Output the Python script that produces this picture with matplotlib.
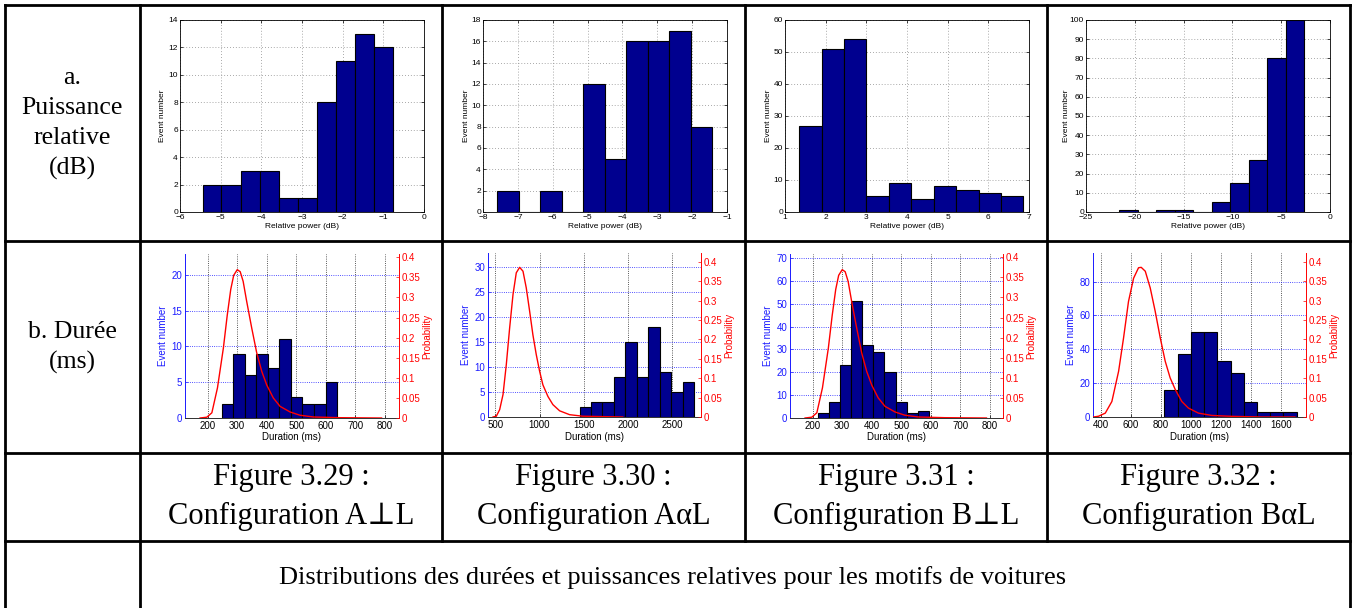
import matplotlib
matplotlib.use('Agg')
import matplotlib.pyplot as plt
from matplotlib.lines import Line2D
from matplotlib.ticker import FuncFormatter
import numpy as np

# ---------------- data ----------------
# Row a: relative power histograms (bin edges, counts)
power_edges_AperpL = [-5.44, -4.98, -4.51, -4.04, -3.57, -3.11, -2.64, -2.17, -1.70, -1.24, -0.77]
power_counts_AperpL = [2, 2, 3, 3, 1, 1, 8, 11, 13, 12]
power_edges_AalphaL = [-7.60, -6.98, -6.36, -5.74, -5.13, -4.51, -3.89, -3.27, -2.66, -2.04, -1.42]
power_counts_AalphaL = [2, 0, 2, 0, 12, 5, 16, 16, 17, 8]
power_edges_BperpL = [1.35, 1.90, 2.45, 3.00, 3.56, 4.11, 4.66, 5.21, 5.76, 6.31, 6.86]
power_counts_BperpL = [27, 51, 54, 5, 9, 4, 8, 7, 6, 5]
power_edges_BalphaL = [-21.60, -19.70, -17.81, -15.91, -14.01, -12.12, -10.22, -8.32, -6.42, -4.53, -2.63]
power_counts_BalphaL = [1, 0, 1, 1, 0, 5, 15, 27, 80, 100]

# Row b: duration histograms (bin edges, counts) and probability curves
dur_edges_AperpL = [247, 287, 326, 365, 404, 443, 482, 521, 560, 600, 639]
dur_counts_AperpL = [2, 9, 6, 9, 7, 11, 3, 2, 2, 5]
dur_edges_AalphaL = [1453, 1583, 1712, 1842, 1972, 2102, 2232, 2362, 2492, 2622, 2752]
dur_counts_AalphaL = [2, 3, 3, 8, 15, 8, 18, 9, 5, 7]
dur_edges_BperpL = [217, 255, 292, 330, 368, 405, 443, 481, 518, 556, 594]
dur_counts_BperpL = [2, 7, 23, 51, 32, 29, 20, 7, 2, 3]
dur_edges_BalphaL = [824, 913, 1001, 1089, 1177, 1266, 1354, 1442, 1530, 1618, 1707]
dur_counts_BalphaL = [16, 37, 50, 50, 33, 26, 9, 3, 3, 3]

prob_x_AperpL = [174, 197, 214, 233, 253, 266, 278, 288, 300, 310, 320, 332, 349, 366, 383, 400, 422, 445, 479, 512, 558, 648, 789]
prob_y_AperpL = [0, 0.002, 0.013, 0.075, 0.174, 0.255, 0.320, 0.355, 0.369, 0.364, 0.340, 0.290, 0.224, 0.162, 0.116, 0.082, 0.050, 0.029, 0.015, 0.007, 0.0025, 0.0008, 0]
prob_x_AalphaL = [474, 511, 549, 587, 624, 662, 700, 737, 775, 813, 850, 888, 925, 963, 1001, 1038, 1095, 1151, 1227, 1340, 1490, 1942]
prob_y_AalphaL = [0, 0.002, 0.019, 0.058, 0.135, 0.230, 0.316, 0.372, 0.386, 0.376, 0.333, 0.273, 0.212, 0.161, 0.118, 0.083, 0.053, 0.032, 0.016, 0.006, 0.002, 0]
prob_x_BperpL = [174, 197, 214, 233, 253, 266, 278, 288, 300, 310, 320, 332, 349, 366, 383, 400, 422, 445, 479, 512, 558, 648, 789]
prob_y_BperpL = [0, 0.002, 0.013, 0.075, 0.174, 0.255, 0.320, 0.355, 0.369, 0.364, 0.340, 0.290, 0.224, 0.162, 0.116, 0.082, 0.050, 0.029, 0.015, 0.007, 0.0025, 0.0008, 0]
prob_x_BalphaL = [351, 384, 429, 473, 518, 551, 584, 618, 651, 669, 696, 729, 762, 796, 829, 862, 896, 940, 984, 1051, 1140, 1273, 1473, 1695]
prob_y_BalphaL = [0, 0.002, 0.010, 0.040, 0.118, 0.204, 0.298, 0.358, 0.385, 0.386, 0.376, 0.333, 0.273, 0.204, 0.144, 0.101, 0.071, 0.040, 0.023, 0.010, 0.004, 0.0017, 0, 0]

row_labels = [["a.", "Puissance", "relative", "(dB)"], ["b. Durée", "(ms)"]]
captions = [("Figure 3.29 :", "Configuration A⊥L"), ("Figure 3.30 :", "Configuration AαL"),
            ("Figure 3.31 :", "Configuration B⊥L"), ("Figure 3.32 :", "Configuration BαL")]
table_title = "Distributions des durées et puissances relatives pour les motifs de voitures"

# ---------------- layout ----------------
W, H = 1357, 608
fig = plt.figure(figsize=(W / 100, H / 100), dpi=100)
fig.patch.set_facecolor('white')

SANS = ['Liberation Sans', 'DejaVu Sans']
SERIF = ['Liberation Serif', 'DejaVu Serif']
NAVY = '#00008F'
BLUE = '#1a1aff'
RED = '#ff0000'


def rect(x0, y0, x1, y1):
    return [x0 / W, 1 - y1 / H, (x1 - x0) / W, (y1 - y0) / H]


def ftext(x, y, s, **kw):
    fig.text(x / W, 1 - y / H, s, ha='center', va='center', **kw)


def hline(y, x0, x1):
    fig.add_artist(Line2D([x0 / W, x1 / W], [1 - y / H, 1 - y / H], transform=fig.transFigure,
                          color='black', lw=2.0, solid_capstyle='projecting'))


def vline(x, y0, y1):
    fig.add_artist(Line2D([x / W, x / W], [1 - y0 / H, 1 - y1 / H], transform=fig.transFigure,
                          color='black', lw=2.0, solid_capstyle='projecting'))


def gfmt(v, pos):
    s = '%g' % v
    return s.replace('-', '\u2212')


# table
for y in [5, 241, 453, 541]:
    hline(y, 5, 1350)
for x in [5, 140, 1350]:
    vline(x, 5, 612)
for x in [442, 745, 1047]:
    vline(x, 5, 541)

# left column labels
for i, s in enumerate(row_labels[0]):
    ftext(72, 78 + 30 * i, s, fontsize=18.5, family=SERIF)
for i, s in enumerate(row_labels[1]):
    ftext(72, 332 + 30 * i, s, fontsize=18.5, family=SERIF)

# captions
cell_centers = [291, 593.5, 896, 1198.5]
for cx, (l1, l2) in zip(cell_centers, captions):
    ftext(cx, 478, l1, fontsize=22, family=SERIF)
    ftext(cx, 516, l2, fontsize=22, family=SERIF)
ftext(673, 578, table_title, fontsize=19, family=SERIF)

# ---------------- row a: relative power ----------------
top_boxes = [(180, 20, 424, 212), (483, 20, 727, 212), (785, 20, 1029, 212), (1086, 20, 1330, 212)]
top_edges = [power_edges_AperpL, power_edges_AalphaL, power_edges_BperpL, power_edges_BalphaL]
top_counts = [power_counts_AperpL, power_counts_AalphaL, power_counts_BperpL, power_counts_BalphaL]
top_xlim = [(-6, 0), (-8, -1), (1, 7), (-25, 0)]
top_xstep = [1, 1, 1, 5]
top_ylim = [(0, 14), (0, 18), (0, 60), (0, 100)]
top_ystep = [2, 2, 10, 10]
top_ylabel_dx = [-17, -17, -17, -20]

for box, edges, counts, xl, xs, yl, ys, dx in zip(top_boxes, top_edges, top_counts, top_xlim,
                                                  top_xstep, top_ylim, top_ystep, top_ylabel_dx):
    ax = fig.add_axes(rect(*box))
    e = np.array(edges)
    ax.bar(e[:-1], counts, width=np.diff(e), align='edge', color=NAVY, edgecolor='black', lw=0.8, zorder=2)
    ax.set_xlim(*xl)
    ax.set_ylim(*yl)
    ax.set_xticks(np.arange(xl[0], xl[1] + 0.001, xs))
    ax.set_yticks(np.arange(yl[0], yl[1] + 0.001, ys))
    ax.xaxis.set_major_formatter(FuncFormatter(gfmt))
    ax.yaxis.set_major_formatter(FuncFormatter(gfmt))
    ax.grid(True, linestyle=(0, (1, 2.5)), color='#8c8c8c', lw=0.6, zorder=0)
    ax.set_axisbelow(True)
    ax.tick_params(direction='in', length=2.5, width=0.5, labelsize=6, pad=1.5,
                   top=True, right=True)
    for lab in ax.get_xticklabels() + ax.get_yticklabels():
        lab.set_family(SANS)
    for sp in ax.spines.values():
        sp.set_linewidth(0.6)
    ftext((box[0] + box[2]) / 2, 227, "Relative power (dB)", fontsize=6, family=SANS)
    ftext(box[0] + dx, (box[1] + box[3]) / 2, "Event number", fontsize=6, family=SANS, rotation=90)

# ---------------- row b: duration ----------------
bot_boxes = [(185, 254, 399, 418), (488, 253, 701, 417), (790, 254, 1003, 418), (1093, 253, 1306, 417)]
bot_edges = [dur_edges_AperpL, dur_edges_AalphaL, dur_edges_BperpL, dur_edges_BalphaL]
bot_counts = [dur_counts_AperpL, dur_counts_AalphaL, dur_counts_BperpL, dur_counts_BalphaL]
bot_px = [prob_x_AperpL, prob_x_AalphaL, prob_x_BperpL, prob_x_BalphaL]
bot_py = [prob_y_AperpL, prob_y_AalphaL, prob_y_BperpL, prob_y_BalphaL]
bot_xlim = [(123, 848), (417, 2827), (123, 845), (347, 1769)]
bot_xticks = [np.arange(200, 801, 100), np.arange(500, 2501, 500), np.arange(200, 801, 100), np.arange(400, 1601, 200)]
bot_ylim = [(0, 22.9), (0, 32.9), (0, 71.75), (0, 96.9)]
bot_yticks = [np.arange(0, 21, 5), np.arange(0, 31, 5), np.arange(0, 71, 10), np.arange(0, 81, 20)]
bot_y2lim = [(0, 0.408), (0, 0.423), (0, 0.408), (0, 0.423)]
prob_ticks = np.arange(0, 0.401, 0.05)

for i in range(4):
    box = bot_boxes[i]
    ax = fig.add_axes(rect(*box))
    e = np.array(bot_edges[i])
    ax.bar(e[:-1], bot_counts[i], width=np.diff(e), align='edge', color=NAVY, edgecolor='black', lw=0.8, zorder=2)
    ax.set_xlim(*bot_xlim[i])
    ax.set_ylim(*bot_ylim[i])
    ax.set_xticks(bot_xticks[i])
    ax.set_yticks(bot_yticks[i])
    ax.xaxis.set_major_formatter(FuncFormatter(gfmt))
    ax.yaxis.set_major_formatter(FuncFormatter(gfmt))
    ax.set_axisbelow(True)
    ax.xaxis.grid(True, linestyle=':', color='#202020', lw=0.6)
    ax.yaxis.grid(True, linestyle=':', color=BLUE, lw=0.6)
    ax.tick_params(axis='x', direction='in', length=2.5, width=0.5, labelsize=7, pad=2.5, colors='black')
    ax.tick_params(axis='y', direction='in', length=2.5, width=0.5, labelsize=7, pad=2, colors=BLUE)
    ax.spines['top'].set_visible(False)
    ax.spines['right'].set_visible(False)
    ax.spines['left'].set_color(BLUE)
    ax.spines['bottom'].set_color('#303030')
    for sp in ax.spines.values():
        sp.set_linewidth(0.7)
    for lab in ax.get_xticklabels() + ax.get_yticklabels():
        lab.set_family(SANS)

    ax2 = ax.twinx()
    ax2.plot(bot_px[i], bot_py[i], color=RED, lw=1.0)
    ax2.set_ylim(*bot_y2lim[i])
    ax2.set_xlim(*bot_xlim[i])
    ax2.set_yticks(prob_ticks)
    ax2.yaxis.set_major_formatter(FuncFormatter(gfmt))
    ax2.tick_params(axis='y', direction='in', length=2.5, width=0.5, labelsize=7, pad=2, colors=RED)
    for lab in ax2.get_yticklabels():
        lab.set_family(SANS)
    ax2.spines['top'].set_visible(False)
    ax2.spines['left'].set_visible(False)
    ax2.spines['bottom'].set_visible(False)
    ax2.spines['right'].set_color(RED)
    ax2.spines['right'].set_linewidth(0.7)

    ftext((box[0] + box[2]) / 2, 437, "Duration (ms)", fontsize=7, family=SANS)
    ftext(box[0] - 22, (box[1] + box[3]) / 2, "Event number", fontsize=7, family=SANS,
          rotation=90, color=BLUE)
    ftext(box[2] + 28, (box[1] + box[3]) / 2, "Probability", fontsize=7, family=SANS,
          rotation=90, color=RED)

fig.savefig('out.png', dpi=100, facecolor='white')
